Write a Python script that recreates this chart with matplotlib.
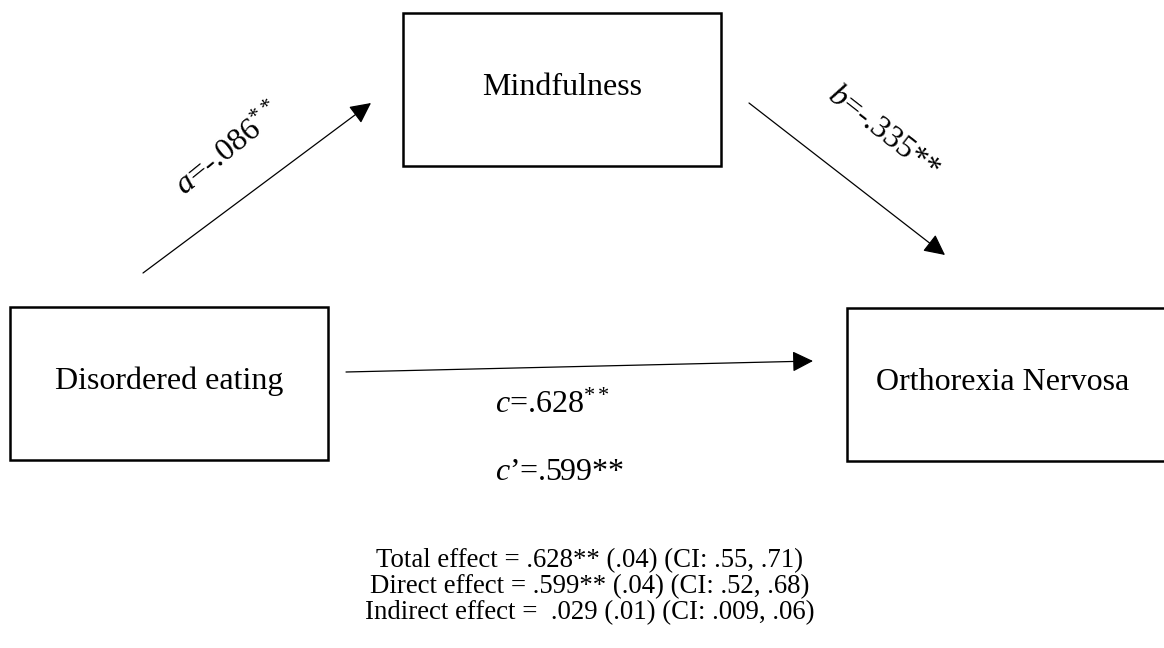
import matplotlib.pyplot as plt
from matplotlib.patches import Rectangle

plt.rcParams['font.family'] = ['Liberation Serif', 'DejaVu Serif']
plt.rcParams['mathtext.fontset'] = 'custom'
plt.rcParams['mathtext.rm'] = 'Liberation Serif'
plt.rcParams['mathtext.it'] = 'Liberation Serif:italic'

# variables of the mediation model
nodes = ['Disordered eating', 'Mindfulness', 'Orthorexia Nervosa']
# path labels
path_a = r'$\mathit{a}$=-.086$^{**}$'
path_b = r'$\mathit{b}$=-.335**'
path_c = r'$\mathit{c}$=.628$^{**}$'
path_c2 = r'$\mathit{c}$’=.599**'
effects = ['Total effect = .628** (.04) (CI: .55, .71)',
           'Direct effect = .599** (.04) (CI: .52, .68)',
           'Indirect effect =  .029 (.01) (CI: .009, .06)']

fig = plt.figure(figsize=(11.64, 6.48), dpi=100)
ax = fig.add_axes([0, 0, 1, 1])
ax.set_xlim(0, 1164)
ax.set_ylim(648, 0)
ax.axis('off')

# boxes (x, y, w, h) in pixel space
boxes = [(10, 307, 318, 153), (403, 13, 318, 153), (847, 308, 318, 153)]
for (x, y, w, h), name in zip(boxes, nodes):
    ax.add_patch(Rectangle((x, y), w, h, fill=False, lw=1.8, ec='black'))
    ax.text(x + w / 2 + (0 if name != 'Orthorexia Nervosa' else -3), y + h / 2 - 2, name,
            ha='center', va='center', fontsize=23)

# arrows
arrow = dict(arrowstyle='-|>', mutation_scale=32, lw=0.9, color='black',
             shrinkA=0, shrinkB=0)
ax.annotate('', xy=(371, 103), xytext=(143, 273), arrowprops=arrow)
ax.annotate('', xy=(945, 255), xytext=(749, 103), arrowprops=arrow)
ax.annotate('', xy=(813, 361), xytext=(346, 372), arrowprops=arrow)

# path coefficients
ax.text(230, 150, path_a, rotation=39, rotation_mode='anchor',
        ha='center', va='center', fontsize=23)
ax.text(883, 133, path_b, rotation=-38, rotation_mode='anchor',
        ha='center', va='center', fontsize=23)
ax.text(495, 405, path_c, ha='left', va='center', fontsize=23)
ax.text(495, 473, path_c2, ha='left', va='center', fontsize=23)

# effect summary
for i, line in enumerate(effects):
    ax.text(590, 561 + 26 * i, line, ha='center', va='center', fontsize=19.3)

fig.savefig('out.png', dpi=100)
